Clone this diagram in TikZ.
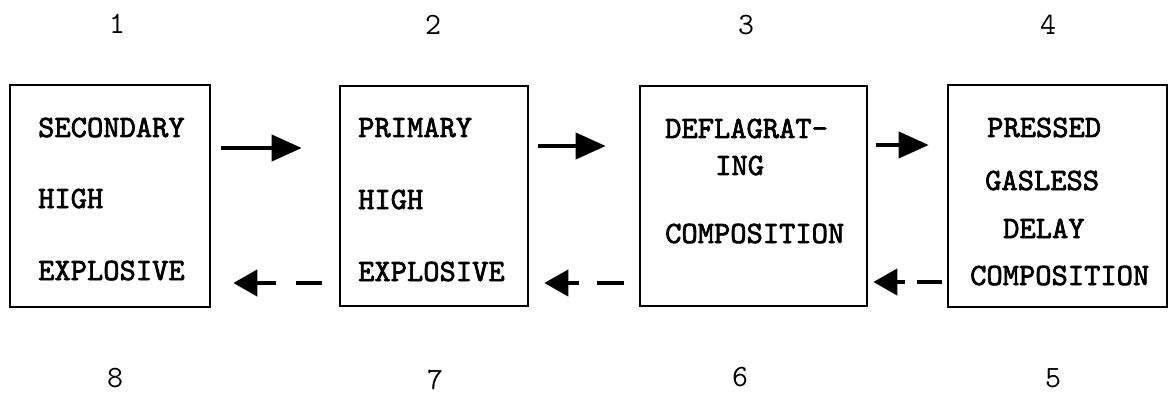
\documentclass[tikz,border=0pt]{standalone}
\usepackage{fontspec}
\newfontfamily\typebold{lmmono10-regular.otf}[FakeBold=2.2]
\usetikzlibrary{arrows.meta}
\begin{document}
\begin{tikzpicture}[x=1pt,y=-1pt,
  box/.style={draw,line width=2.6pt,inner sep=0pt},
  lbl/.style={font=\fontsize{31}{36}\selectfont\typebold,inner sep=0pt,anchor=base west},
  num/.style={font=\fontsize{31}{36}\selectfont\ttfamily,inner sep=0pt},
  fwd/.style={line width=4pt,-{Triangle[length=30pt,width=26pt]}},
  back/.style={line width=4.5pt,-{Triangle[length=24pt,width=26pt]}}]
\useasboundingbox[fill=white] (0,0) rectangle (1170,401);
% boxes
\node[box,minimum width=200pt,minimum height=222pt] (b1) at (110,196) {};
\node[box,minimum width=188pt,minimum height=220pt] (b2) at (434,196) {};
\node[box,minimum width=227pt,minimum height=220pt] (b3) at (753.5,196) {};
\node[box,minimum width=219pt,minimum height=222pt] (b4) at (1057.5,196) {};
% box texts
\node[lbl] (t1a) at (38,137) {SECONDARY};
\node[lbl] (t1b) at (38,208) {HIGH};
\node[lbl] (t1c) at (38,280) {EXPLOSIVE};
\node[lbl] (t2a) at (358,137) {PRIMARY};
\node[lbl] (t2b) at (358,209) {HIGH};
\node[lbl] (t2c) at (358,281) {EXPLOSIVE};
\node[lbl] (t3a) at (665,138) {DEFLAGRAT-};
\node[lbl] (t3b) at (715,175) {ING};
\node[lbl] (t3c) at (665,243) {COMPOSITION};
\node[lbl] (t4a) at (987,137) {PRESSED};
\node[lbl] (t4b) at (985,190) {GASLESS};
\node[lbl] (t4c) at (1003,238) {DELAY};
\node[lbl] (t4d) at (970,285) {COMPOSITION};
% numbers
\node[num] (n1) at (117,24) {1};
\node[num] (n2) at (433,25) {2};
\node[num] (n3) at (746,25) {3};
\node[num] (n4) at (1048,25) {4};
\node[num] (n8) at (115,378) {8};
\node[num] (n7) at (435,380) {7};
\node[num] (n6) at (740,377) {6};
\node[num] (n5) at (1053,378) {5};
% forward arrows
\draw[fwd,shorten <=10pt,shorten >=37pt] ([yshift=48pt]b1.east) -- ([yshift=48pt]b2.west);
\draw[fwd,shorten <=9pt,shorten >=33pt] ([yshift=50pt]b2.east) -- ([yshift=50pt]b3.west);
\draw[fwd,shorten <=8pt,shorten >=18pt] ([yshift=51pt]b3.east) -- ([yshift=51pt]b4.west);
% return arrows (dashed)
\draw[back,dash pattern=on 26pt off 20pt on 80pt,shorten <=17pt,shorten >=22pt] ([yshift=-87pt]b2.west) -- ([yshift=-87pt]b1.east);
\draw[back,dash pattern=on 27pt off 18pt on 80pt,shorten <=15pt,shorten >=15pt] ([yshift=-87pt]b3.west) -- ([yshift=-87pt]b2.east);
\draw[back,dash pattern=on 25pt off 12pt on 80pt,shorten <=5pt,shorten >=5pt] ([yshift=-86pt]b4.west) -- ([yshift=-86pt]b3.east);
\end{tikzpicture}
\end{document}
